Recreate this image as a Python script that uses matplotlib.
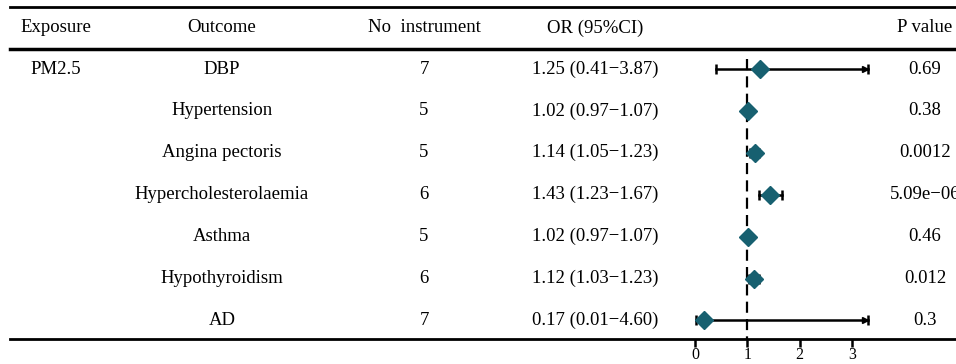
import numpy as np
import matplotlib.pyplot as plt

exposure = ["PM2.5", "", "", "", "", "", ""]
outcome = ["DBP", "Hypertension", "Angina pectoris", "Hypercholesterolaemia",
           "Asthma", "Hypothyroidism", "AD"]
n_instr = [7, 5, 5, 6, 5, 6, 7]
or_val = [1.25, 1.02, 1.14, 1.43, 1.02, 1.12, 0.17]
ci_lo = [0.41, 0.97, 1.05, 1.23, 0.97, 1.03, 0.01]
ci_hi = [3.87, 1.07, 1.23, 1.67, 1.07, 1.23, 4.60]
p_val = ["0.69", "0.38", "0.0012", "5.09e\u221206", "0.46", "0.012", "0.3"]
headers = ["Exposure", "Outcome", "No  instrument", "OR (95%CI)", "P value"]

plt.rcParams['font.family'] = ['Liberation Serif', 'DejaVu Serif']

W, H = 956, 364
fig = plt.figure(figsize=(W / 100, H / 100), dpi=100)

# table layer in pixel coords
ax = fig.add_axes([0, 0, 1, 1])
ax.set_xlim(0, W)
ax.set_ylim(H, 0)
ax.axis('off')

row0, dy = 69, 41.9
head_y = 28
col_x = [56, 222, 424, 595, 925]
fs = 13.5

for x, h in zip(col_x, headers):
    ax.text(x, head_y, h, ha='center', va='center', fontsize=fs)

for i in range(len(outcome)):
    y = row0 + dy * i
    ax.text(col_x[0], y, exposure[i], ha='center', va='center', fontsize=fs)
    ax.text(col_x[1], y, outcome[i], ha='center', va='center', fontsize=fs)
    ax.text(col_x[2], y, str(n_instr[i]), ha='center', va='center', fontsize=fs)
    txt = "%.2f (%.2f\u2212%.2f)" % (or_val[i], ci_lo[i], ci_hi[i])
    ax.text(col_x[3], y, txt, ha='center', va='center', fontsize=fs)
    ax.text(col_x[4], y, p_val[i], ha='center', va='center', fontsize=fs)

ax.plot([10, W], [7, 7], color='black', lw=2)
ax.plot([10, W], [49, 49], color='black', lw=2.5)
ax.plot([10, W], [339, 339], color='black', lw=2)

# forest column
px0, px_unit = 695, 52.3
left, right = 680, 880
top, bottom = 49, 339
axf = fig.add_axes([left / W, 1 - bottom / H, (right - left) / W, (bottom - top) / H])
axf.set_xlim((left - px0) / px_unit, (right - px0) / px_unit)
axf.set_ylim((bottom - row0) / dy, (top - row0) / dy)
axf.patch.set_alpha(0)
for s in axf.spines.values():
    s.set_visible(False)
axf.set_yticks([])
axf.set_xticks([0, 1, 2, 3])
axf.tick_params(axis='x', direction='out', length=6, width=1.8, labelsize=11.5, pad=0)

clip = 3.31
axf.plot([1, 1], [-0.25, (bottom - row0) / dy], color='black', lw=1.6,
         ls=(0, (5, 2.8)), zorder=1)
yy = np.arange(len(outcome))
for i in range(len(outcome)):
    hi = min(ci_hi[i], clip)
    axf.plot([ci_lo[i], hi], [yy[i], yy[i]], color='black', lw=1.8, zorder=2)
    axf.plot(ci_lo[i], yy[i], marker='|', color='black', ms=6.5, mew=1.8, zorder=2)
    axf.plot(hi, yy[i], marker='|', color='black', ms=6.5, mew=1.8, zorder=2)
    if ci_hi[i] > clip:
        axf.plot(hi - 0.05, yy[i], marker='>', color='black', ms=5, zorder=2)
axf.plot(or_val, yy, ls='none', marker='D', ms=9.5, color='#176070',
         mec='#176070', zorder=3)

fig.savefig('out.png', dpi=100)
